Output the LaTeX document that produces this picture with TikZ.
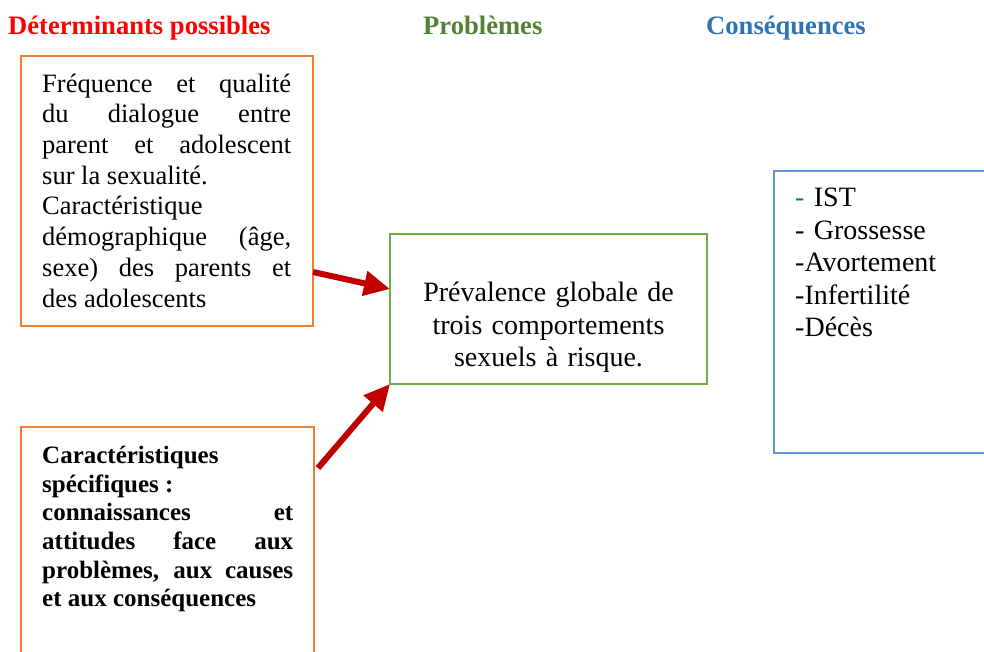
\documentclass[tikz,border=0pt]{standalone}
\usepackage{fontspec}
\setmainfont{Liberation Serif}
\usetikzlibrary{arrows.meta}
\setlength{\parindent}{0pt}
\definecolor{titlered}{HTML}{FF0000}
\definecolor{titlegreen}{HTML}{538135}
\definecolor{titleblue}{HTML}{2E74B5}
\definecolor{dashblue}{HTML}{0070C0}
\definecolor{boxorange}{HTML}{ED7D31}
\definecolor{boxgreen}{HTML}{70AD47}
\definecolor{boxblue}{HTML}{5B9BD5}
\definecolor{arrowred}{HTML}{C00000}

\begin{document}
\begin{tikzpicture}[x=1pt,y=-1pt,
  title/.style={anchor=base west,inner sep=0pt,font=\fontsize{26.6}{30}\selectfont\bfseries},
  frame/.style={draw=#1,line width=2pt,anchor=north west,inner sep=0pt,outer sep=0pt},
  body/.style={anchor=north west,inner sep=0pt},
  flow/.style={draw=arrowred,line width=6pt,-{Triangle[length=26pt,width=24pt]}}]
\clip (0,0) rectangle (984,652);
\node[title,text=titlered] (tdet) at (8,35) {Déterminants possibles};
\node[title,text=titlegreen] (tprob) at (423,35) {Problèmes};
\node[title,text=titleblue] (tcons) at (706,35) {Conséquences};
\node[frame=boxorange,minimum width=292pt,minimum height=270pt] (det1) at (21,56) {};
\node[frame=boxorange,minimum width=293pt,minimum height=260pt] (det2) at (21,427) {};
\node[frame=boxgreen,minimum width=317pt,minimum height=150pt] (prob) at (390,234) {};
\node[frame=boxblue,minimum width=240pt,minimum height=282pt] (cons) at (774,171) {};
\node[body,align=justify,text width=249pt,font=\fontsize{26.5}{30.7}\selectfont] (txtdet1) at (42,70.5)
  {\strut Fréquence et qualité\linebreak du dialogue entre\linebreak parent et adolescent\linebreak sur la sexualité.\par
   Caractéristique\linebreak démographique (âge,\linebreak sexe) des parents et\linebreak des adolescents};
\node[body,align=justify,text width=251pt,font=\fontsize{25}{28.7}\selectfont\bfseries] (txtdet2) at (42,443.2)
  {\strut Caractéristiques\newline spécifiques~:\newline connaissances et\linebreak attitudes face aux\linebreak problèmes, aux causes\linebreak et aux conséquences};
\node[body,anchor=north,align=center,text width=300pt,font=\fontsize{28}{32.5}\selectfont] (txtprob) at (548.5,279)
  {\strut Prévalence globale de\\ trois comportements\\ sexuels à risque.};
\node[body,align=left,text width=180pt,font=\fontsize{28}{32.5}\selectfont] (txtcons) at (795,184)
  {\strut\textcolor{dashblue}{-} IST\\ - Grossesse\\ -Avortement\\ -Infertilité\\ -Décès};
\draw[flow] ([yshift=54pt]det1.south east) -- ([yshift=20pt]prob.west);
\draw[flow] ([xshift=4pt,yshift=-41pt]det2.north east) -- (prob.south west);
\end{tikzpicture}
\end{document}
